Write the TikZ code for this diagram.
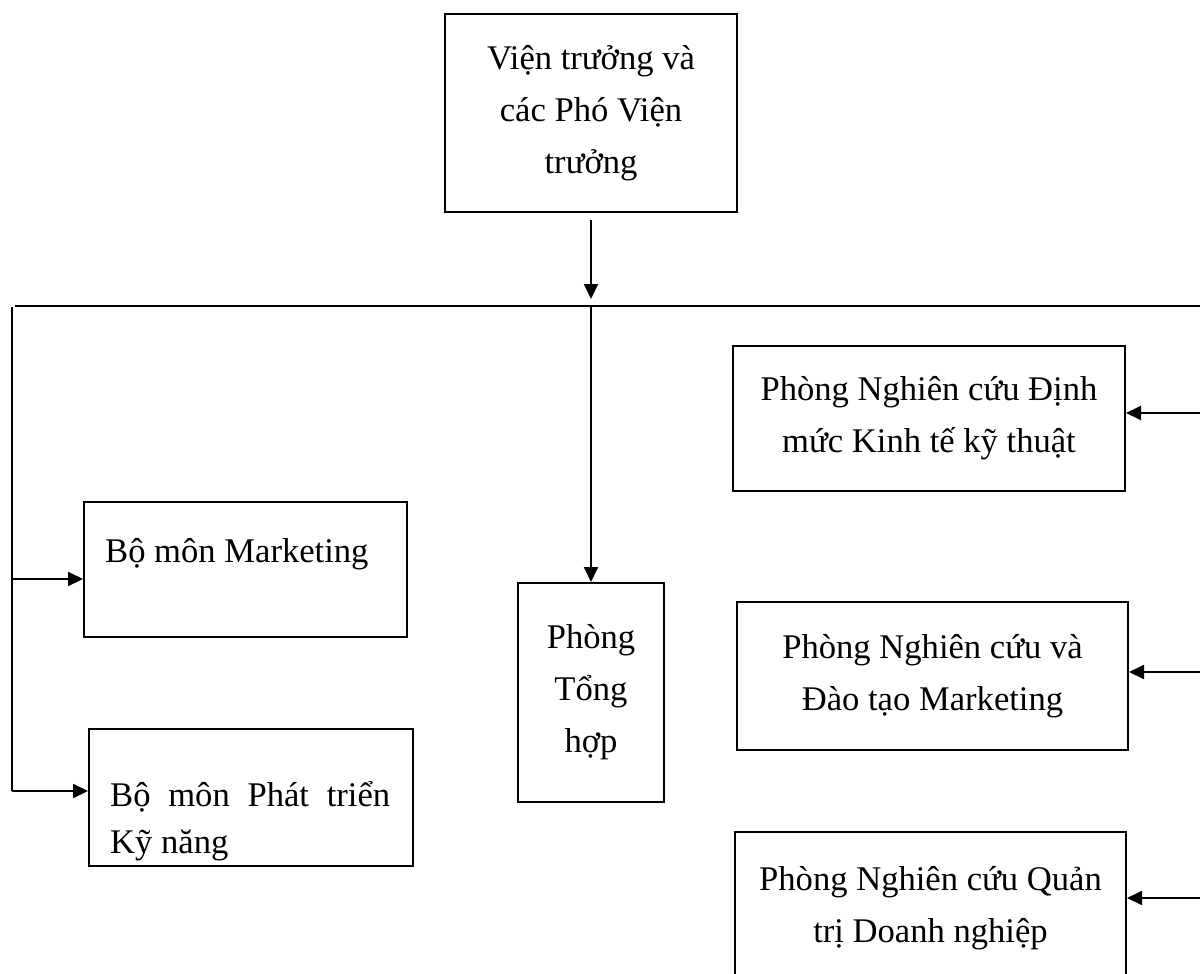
\documentclass[tikz,border=0pt]{standalone}
\usepackage{fontspec}
\setmainfont{Liberation Serif}
\usetikzlibrary{arrows.meta}
\tikzset{
  box/.style={draw=black, line width=2pt, rectangle, inner sep=0pt, align=center,
    font=\fontsize{34.6pt}{52pt}\selectfont},
  txt/.style={inner sep=0pt, font=\fontsize{34.6pt}{47pt}\selectfont},
  conn/.style={line width=2pt},
  arr/.style={line width=2pt, -{Triangle[length=15pt,width=14pt]}}
}
\begin{document}
\begin{tikzpicture}[x=1pt,y=-1pt]
\useasboundingbox (0,0) rectangle (1200,974);
\clip (0,0) rectangle (1200,974);
% boxes
\node[box, minimum width=292pt, minimum height=198pt] (top) at (591,113) {Viện trưởng và\\các Phó Viện\\trưởng};
\node[box, minimum width=323pt, minimum height=135pt] (mk) at (245.5,569.5) {};
\node[txt, anchor=base west] (mkt) at (105,562) {Bộ môn Marketing};
\node[box, minimum width=324pt, minimum height=137pt] (pt) at (251,797.5) {};
\node[txt, anchor=base west] (ptt1) at (110,806) {\makebox[280pt][s]{Bộ môn Phát triển}};
\node[txt, anchor=base west] (ptt2) at (110,853) {Kỹ năng};
\node[box, minimum width=146pt, minimum height=219pt] (th) at (591,692.5) {Phòng\\Tổng\\hợp};
\node[box, minimum width=392pt, minimum height=145pt] (r1) at (929,418.5) {Phòng Nghiên cứu Định\\mức Kinh tế kỹ thuật};
\node[box, minimum width=391pt, minimum height=148pt] (r2) at (932.5,676) {Phòng Nghiên cứu và\\Đào tạo Marketing};
\node[box, minimum width=391pt, minimum height=153pt] (r3) at (930.5,908.5) {Phòng Nghiên cứu Quản\\trị Doanh nghiệp};
% bus coordinates
\coordinate (a0) at (591,220);
\coordinate (a1) at (591,299);
\coordinate (hl) at (15,306);
\coordinate (hr) at (1200,306);
\coordinate (hm) at (591,306);
\coordinate (vt) at (12,307);
\coordinate (v1) at (12,579);
\coordinate (v2) at (12,791);
\coordinate (e1) at (1200,413);
\coordinate (e2) at (1200,672);
\coordinate (e3) at (1200,898);
% connectors
\draw[arr] (a0) -- (a1);
\draw[conn] (hl) -- (hr);
\draw[arr] (hm) -- (th.north);
\draw[conn] (vt) -- (v2);
\draw[arr] (v1) -- (v1 -| mk.west);
\draw[arr] (v2) -- (v2 -| pt.west);
\draw[arr] (e1) -- (e1 -| r1.east);
\draw[arr] (e2) -- (e2 -| r2.east);
\draw[arr] (e3) -- (e3 -| r3.east);
\end{tikzpicture}
\end{document}
